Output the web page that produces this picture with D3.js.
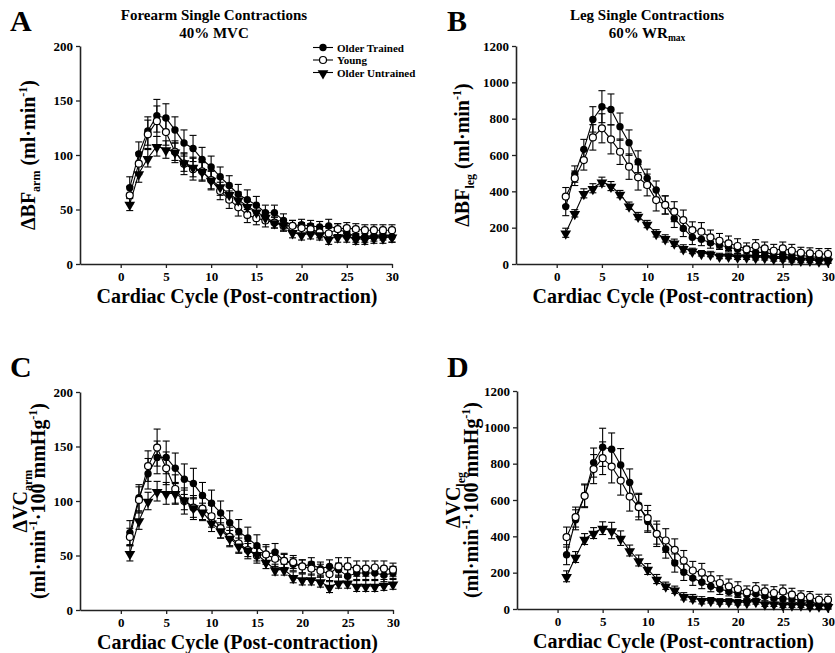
<!DOCTYPE html>
<html><head><meta charset="utf-8">
<script src="https://cdn.jsdelivr.net/npm/d3@7"></script>
<style>
body{margin:0;background:#fff;}
svg text{font-family:"Liberation Serif","Times New Roman",serif !important;font-weight:bold;fill:#000;}
</style></head>
<body><svg id="chart" width="835" height="653"></svg>
<script>
const cycles = [1,2,3,4,5,6,7,8,9,10,11,12,13,14,15,16,17,18,19,20,21,22,23,24,25,26,27,28,29,30];
const xTicks = [0,5,10,15,20,25,30];
const seriesNames = ["Older Trained","Young","Older Untrained"];

// Panel A: forearm blood flow
const aOT  = [70,101,122,136,134,123,111,106,96,89,80,72,64,59,54,47,47,40,35,36,35,34,35,32,29,25,25,26,27,25];
const aY   = [63,92,119,131,121,103,92,87,85,77,67,59,52,45,42,40,38,35,35,33,32,29,28,32,33,32,31,31,31,31];
const aOU  = [55,83,97,108,105,103,93,89,85,77,71,64,59,53,48,43,38,36,29,27,28,27,23,25,25,23,23,24,24,25];
const aOTe = [10,11,13,15,13,12,12,12,11,10,9,9,9,9,8,7,7,6,5,5,5,5,6,5,5,5,5,5,5,5];
const aYe  = [8,10,13,14,12,10,10,10,9,9,8,8,8,7,6,6,5,5,5,5,5,5,5,5,5,5,5,5,5,5];
const aOUe = [6,8,8,9,8,8,8,9,8,8,8,7,7,6,6,5,5,5,5,5,5,5,5,5,5,5,5,5,5,5];
const aTicks = [0,50,100,150,200];

// Panel B: leg blood flow
const bOT  = [316,495,631,796,866,851,756,668,563,472,407,325,251,196,147,136,117,105,92,81,73,64,64,53,53,48,48,40,37,26];
const bY   = [371,472,572,697,747,686,618,536,477,435,352,325,288,242,187,178,147,128,114,99,81,99,86,73,86,73,62,59,55,55];
const bOU  = [172,279,389,417,453,429,385,321,264,220,169,141,117,86,72,59,55,44,44,40,40,37,37,31,31,26,22,22,18,18];
const bOTe = [50,45,55,70,88,85,75,70,60,50,50,50,50,45,40,35,30,25,25,25,25,20,20,20,20,20,20,20,20,20];
const bYe  = [50,40,55,70,80,80,70,70,70,60,60,50,55,55,45,50,40,40,40,40,35,35,35,35,35,35,30,30,30,30];
const bOUe = [25,20,25,25,25,25,20,20,20,20,20,20,20,20,15,15,15,15,15,15,15,15,15,15,15,15,15,15,15,15];
const bTicks = [0,200,400,600,800,1000,1200];

// Panel C: forearm vascular conductance
const cOT  = [71,103,125,140,140,130,120,116,105,98,89,80,72,66,59,51,53,45,42,40,42,38,40,37,31,34,34,34,32,34];
const cY   = [67,101,132,149,130,111,100,94,93,86,75,67,61,55,50,51,47,45,44,40,38,36,33,40,40,38,38,39,38,37];
const cOU  = [52,82,100,109,107,107,101,94,90,80,73,66,59,55,51,44,37,37,30,28,28,26,21,25,25,22,22,22,23,24];
const cOTe = [11,12,14,15,15,14,14,14,12,12,11,11,11,10,10,9,8,7,6,6,6,6,6,6,6,6,6,6,6,6];
const cYe  = [8,12,14,17,15,13,12,11,10,10,9,9,8,8,7,7,7,6,6,6,6,6,6,8,8,7,7,6,7,6];
const cOUe = [7,8,8,9,10,10,9,9,8,8,7,7,7,6,6,6,5,5,5,5,5,5,5,5,5,5,5,5,5,5];
const cTicks = [0,50,100,150,200];

// Panel D: leg vascular conductance
const dOT  = [299,491,623,806,890,879,793,696,572,482,412,330,253,202,170,147,125,110,97,88,79,84,70,60,55,55,48,42,24,18];
const dY   = [396,506,623,770,830,784,707,619,561,500,414,377,326,267,212,201,165,143,125,110,92,110,97,88,97,79,70,66,51,51];
const dOU  = [180,286,385,418,445,432,390,322,267,220,165,128,106,70,60,48,48,42,42,37,37,42,29,29,24,24,24,18,18,15];
const dOTe = [55,55,60,80,105,90,90,75,65,60,55,50,50,45,40,35,30,30,25,25,25,25,25,25,25,25,25,25,25,25];
const dYe  = [55,55,65,80,90,90,80,80,70,70,70,65,60,55,50,50,40,40,40,40,35,35,35,35,35,35,30,30,30,30];
const dOUe = [30,30,30,30,35,45,40,30,30,30,25,20,20,20,20,20,15,15,15,15,15,15,15,15,15,15,15,15,15,15];
const dTicks = [0,200,400,600,800,1000,1200];

const svg = d3.select("#chart");
const FONT = "Liberation Serif, Times New Roman, serif";

const panels = [
  {letter:"A", lx:10, ly:31, left:80, right:392, top:46, bottom:264, ymax:200, yTicks:aTicks,
   series:[[aOT,aOTe],[aY,aYe],[aOU,aOUe]], legend:true,
   title:["Forearm Single Contractions","40% MVC"], tx:214, sub:null,
   ylab:{x:35, lines:[[["ΔBF",0],["arm",1],["  (ml·min",0],["-1",2],[")",0]]]}},
  {letter:"B", lx:447, ly:31, left:516, right:828, top:46, bottom:264, ymax:1200, yTicks:bTicks,
   series:[[bOT,bOTe],[bY,bYe],[bOU,bOUe]], legend:false,
   title:["Leg Single Contractions","60% WR"], tx:647, sub:"max",
   ylab:{x:469, lines:[[["ΔBF",0],["leg",1],["  (ml·min",0],["-1",2],[")",0]]]}},
  {letter:"C", lx:10, ly:377, left:80, right:393, top:392, bottom:610, ymax:200, yTicks:cTicks,
   series:[[cOT,cOTe],[cY,cYe],[cOU,cOUe]], legend:false, title:null,
   ylab:{x:27, lines:[[["ΔVC",0],["arm",1]],[["(ml·min",0],["-1",2],["·100 mmHg",0],["-1",2],[")",0]]]}},
  {letter:"D", lx:447, ly:377, left:517, right:828, top:391, bottom:609, ymax:1200, yTicks:dTicks,
   series:[[dOT,dOTe],[dY,dYe],[dOU,dOUe]], legend:false, title:null,
   ylab:{x:460, lines:[[["ΔVC",0],["leg",1]],[["(ml·min",0],["-1",2],["·100 mmHg",0],["-1",2],[")",0]]]}}
];

const triangle = d3.symbol().type(d3.symbolTriangle).size(50);

function marker(g, idx, x, y){
  if(idx===0){
    g.append("circle").attr("cx",x).attr("cy",y).attr("r",3.7).attr("fill","#000");
  } else if(idx===1){
    g.append("circle").attr("cx",x).attr("cy",y).attr("r",3.5).attr("fill","#fff").attr("stroke","#000").attr("stroke-width",1.2);
  } else {
    g.append("path").attr("d",triangle).attr("transform",`translate(${x},${y+0.8}) rotate(180)`).attr("fill","#000");
  }
}

panels.forEach(p=>{
  const g = svg.append("g");
  const x = d3.scaleLinear().domain([-4.5,30]).range([p.left,p.right]);
  const y = d3.scaleLinear().domain([0,p.ymax]).range([p.bottom,p.top]);

  // axes
  const xAxis = d3.axisBottom(x).tickValues(xTicks).tickFormat(d3.format("d")).tickSize(4).tickSizeOuter(0).tickPadding(4);
  const yAxis = d3.axisLeft(y).tickValues(p.yTicks).tickFormat(d3.format("d")).tickSize(4).tickSizeOuter(0).tickPadding(3);
  const gx = g.append("g").attr("transform",`translate(0,${p.bottom})`).call(xAxis);
  const gy = g.append("g").attr("transform",`translate(${p.left},0)`).call(yAxis);
  [gx,gy].forEach(a=>{
    a.attr("font-family",FONT).attr("font-size",13);
    a.select(".domain").attr("stroke","#222").attr("stroke-width",1.6);
    a.selectAll(".tick line").attr("stroke","#222").attr("stroke-width",1.3);
    a.selectAll(".tick text").attr("font-size",13).attr("font-family",FONT).attr("font-weight","bold").attr("fill","#000");
  });

  // error bars
  const line = d3.line().x((d,i)=>x(cycles[i])).y(d=>y(d));
  p.series.forEach(([vals,errs])=>{
    const eg = g.append("g").attr("stroke","#000").attr("stroke-width",1.1);
    vals.forEach((v,i)=>{
      const cx = x(cycles[i]);
      const y1 = y(v+errs[i]), y0 = y(Math.max(0,v-errs[i]));
      eg.append("line").attr("x1",cx).attr("x2",cx).attr("y1",y1).attr("y2",y0);
      eg.append("line").attr("x1",cx-3.5).attr("x2",cx+3.5).attr("y1",y1).attr("y2",y1);
      eg.append("line").attr("x1",cx-3.5).attr("x2",cx+3.5).attr("y1",y0).attr("y2",y0);
    });
  });
  p.series.forEach(([vals])=>{
    g.append("path").datum(vals).attr("d",line).attr("fill","none").attr("stroke","#000").attr("stroke-width",1.1);
  });
  p.series.forEach(([vals],si)=>{
    const mg = g.append("g");
    vals.forEach((v,i)=>marker(mg,si,x(cycles[i]),y(v)));
  });

  // panel letter
  svg.append("text").attr("x",p.lx).attr("y",p.ly).attr("font-size",30).attr("font-family",FONT).text(p.letter);

  // title
  if(p.title){
    svg.append("text").attr("x",p.tx).attr("y",20).attr("text-anchor","middle").attr("font-size",15).attr("font-family",FONT).text(p.title[0]);
    const t2 = svg.append("text").attr("x",p.tx).attr("y",38).attr("text-anchor","middle").attr("font-size",15).attr("font-family",FONT);
    t2.append("tspan").text(p.title[1]);
    if(p.sub) t2.append("tspan").attr("font-size",9.5).attr("dy",3).text(p.sub);
  }

  // x title, centred on the full axis line
  svg.append("text").attr("x",(p.left+p.right)/2+1).attr("y",p.bottom+39).attr("text-anchor","middle")
    .attr("font-size",20).attr("font-family",FONT).text("Cardiac Cycle (Post-contraction)");

  // y title
  const cy = (p.top+p.bottom)/2;
  p.ylab.lines.forEach((ln,li)=>{
    const t = svg.append("text").attr("transform",`translate(${p.ylab.x+li*18},${cy}) rotate(-90)`)
      .attr("text-anchor","middle").attr("font-size",20).attr("font-family",FONT);
    let shift = 0;
    ln.forEach(([s,k])=>{
      const ts = t.append("tspan").text(s);
      if(k===1){ ts.attr("font-size",12).attr("dy",5-shift); shift=5; }
      else if(k===2){ ts.attr("font-size",12).attr("dy",-8-shift); shift=-8; }
      else { ts.attr("dy",-shift); shift=0; }
    });
  });

  // legend
  if(p.legend){
    const lg = svg.append("g");
    seriesNames.forEach((n,i)=>{
      const yy = 47.5 + i*12.5;
      lg.append("line").attr("x1",313).attr("x2",333).attr("y1",yy).attr("y2",yy).attr("stroke","#000").attr("stroke-width",1.1);
      marker(lg,i,323,yy);
      lg.append("text").attr("x",337).attr("y",yy+4).attr("font-size",11).attr("font-family",FONT).text(n);
    });
  }
});
</script></body></html>
